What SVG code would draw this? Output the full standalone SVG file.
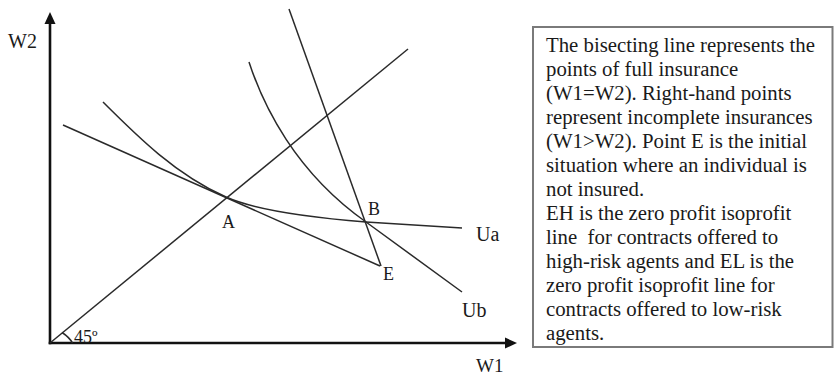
<svg xmlns="http://www.w3.org/2000/svg" width="834" height="379" viewBox="0 0 834 379">
<style>
.lbl{font-family:"Liberation Serif","Times New Roman",serif;fill:#1a1a1a}
.crv{fill:none;stroke:#2a2a2a;stroke-width:1.5}
.ax{fill:none;stroke:#111;stroke-width:2.6}
.note{font-family:"Liberation Serif","Times New Roman",serif;font-size:20px;fill:#1a1a1a}
</style>
<defs>
<marker id="ah" viewBox="0 0 12 12" refX="2" refY="6" markerWidth="12" markerHeight="12" markerUnits="userSpaceOnUse" orient="auto">
<path d="M0,0.5 L12,6 L0,11.5 Z" fill="#111"/>
</marker>
</defs>
<rect width="834" height="379" fill="#fff"/>
<g id="axes">
<line class="ax" x1="50" y1="344.3" x2="50" y2="22" marker-end="url(#ah)"/>
<line class="ax" x1="48.7" y1="343" x2="507" y2="343" marker-end="url(#ah)"/>
<text class="lbl" x="8" y="48" font-size="20">W2</text>
<text class="lbl" x="476" y="372" font-size="19">W1</text>
</g>
<g id="curves">
<line id="bisector" class="crv" x1="50" y1="343" x2="408" y2="49"/>
<path id="angle" class="crv" d="M62,332.5 Q69,337 72.5,343"/>
<line id="EL" class="crv" x1="63" y1="125" x2="380" y2="266"/>
<line id="EH" class="crv" x1="289" y1="9" x2="381" y2="266"/>
<path id="Ua" class="crv" d="M103,102 C138,137 176,174.8 226,197 C245,205.5 280,215 366,222 L462,228"/>
<path id="Ub" class="crv" d="M249,62 C263,105 295,172 366,222 L462,292"/>
</g>
<g id="labels">
<text class="lbl" x="74" y="343" font-size="18">45º</text>
<text class="lbl" x="222" y="228" font-size="18">A</text>
<text class="lbl" x="368" y="215" font-size="18">B</text>
<text class="lbl" x="383" y="280" font-size="18">E</text>
<text class="lbl" x="476" y="241" font-size="20">Ua</text>
<text class="lbl" x="462" y="317" font-size="20">Ub</text>
</g>
<g id="notebox">
<rect x="533" y="27" width="299.5" height="320" fill="#fff" stroke="#7a7a7a" stroke-width="2"/>
<g transform="translate(546,0) scale(1.04,1)">
<text class="note" x="0" y="52">The bisecting line represents the</text>
<text class="note" x="0" y="76">points of full insurance</text>
<text class="note" x="0" y="100">(W1=W2). Right-hand points</text>
<text class="note" x="0" y="124">represent incomplete insurances</text>
<text class="note" x="0" y="148">(W1&gt;W2). Point E is the initial</text>
<text class="note" x="0" y="172">situation where an individual is</text>
<text class="note" x="0" y="196">not insured.</text>
<text class="note" x="0" y="220">EH is the zero profit isoprofit</text>
<text class="note" x="0" y="244" style="white-space:pre">line  for contracts offered to</text>
<text class="note" x="0" y="268">high-risk agents and EL is the</text>
<text class="note" x="0" y="292">zero profit isoprofit line for</text>
<text class="note" x="0" y="316">contracts offered to low-risk</text>
<text class="note" x="0" y="340">agents.</text>
</g>
</g>
</svg>
